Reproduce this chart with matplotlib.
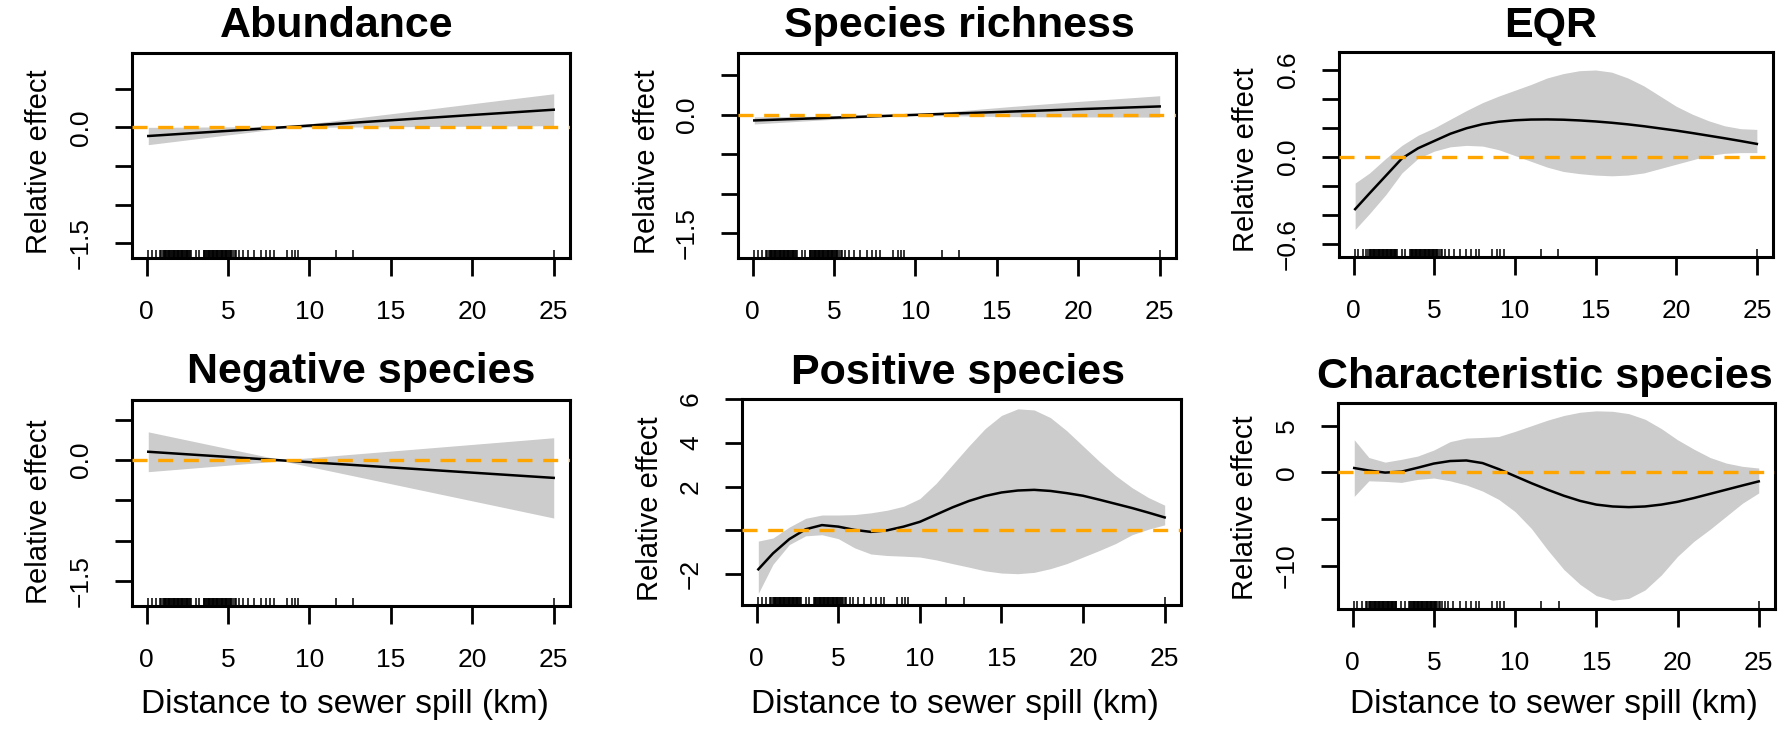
import matplotlib
matplotlib.use("Agg")
import matplotlib.pyplot as plt

plt.rcParams['font.family'] = ['Liberation Sans', 'DejaVu Sans']

# ---------------- data ----------------
rug_km = [0.1, 0.3, 0.6, 0.8, 0.9, 1.0, 1.05, 1.1, 1.15, 1.2, 1.25, 1.3, 1.35, 1.4, 1.45, 1.5,
          1.55, 1.6, 1.65, 1.7, 1.75, 1.8, 1.85, 1.9, 1.95, 2.0, 2.05, 2.1, 2.15, 2.2, 2.25,
          2.3, 2.35, 2.4, 2.45, 2.5, 2.55, 2.6, 2.65, 2.7, 3.0, 3.2, 3.5, 3.55, 3.6, 3.65,
          3.7, 3.75, 3.8, 3.85, 3.9, 3.95, 4.0, 4.05, 4.1, 4.15, 4.2, 4.25, 4.3, 4.35, 4.4,
          4.45, 4.5, 4.55, 4.6, 4.65, 4.7, 4.75, 4.8, 4.85, 4.9, 4.95, 5.0, 5.05, 5.1, 5.15,
          5.2, 5.3, 5.4, 5.5, 5.7, 5.9, 6.2, 6.6, 7.0, 7.3, 7.6, 7.8, 8.6, 8.9, 9.1, 9.3,
          11.6, 12.7, 25.0]

abund_x = [0.1, 2, 4, 6, 8, 8.7, 10, 12, 14, 16, 18, 20, 22, 25]
abund_fit = [-0.113, -0.087, -0.060, -0.033, -0.005, 0.004, 0.022, 0.049, 0.077, 0.104, 0.131, 0.159, 0.186, 0.227]
abund_hi = [-0.001, 0.001, 0.004, 0.007, 0.010, 0.011, 0.045, 0.097, 0.149, 0.200, 0.252, 0.304, 0.356, 0.433]
abund_lo = [-0.225, -0.176, -0.124, -0.073, -0.021, -0.003, -0.001, 0.002, 0.005, 0.008, 0.011, 0.013, 0.016, 0.020]

rich_x = [0.1, 2, 4, 6, 8, 9.5, 12, 14, 16, 18, 20, 22, 25]
rich_fit = [-0.072, -0.058, -0.044, -0.030, -0.016, -0.005, 0.013, 0.027, 0.041, 0.055, 0.070, 0.084, 0.105]
rich_hi = [-0.027, -0.023, -0.019, -0.014, -0.008, 0.000, 0.038, 0.072, 0.106, 0.137, 0.168, 0.197, 0.240]
rich_lo = [-0.117, -0.093, -0.069, -0.046, -0.024, -0.010, -0.012, -0.018, -0.024, -0.027, -0.028, -0.029, -0.030]

eqr_x = [0.1, 1, 2, 3, 4, 5, 6, 7, 8, 9, 10, 11, 12, 13, 14, 15, 16, 17, 18, 19, 20, 21, 22, 23, 24, 25]
eqr_fit = [-0.36, -0.25, -0.13, -0.01, 0.06, 0.11, 0.16, 0.198, 0.226, 0.243, 0.253, 0.258, 0.259,
           0.257, 0.252, 0.245, 0.236, 0.225, 0.212, 0.197, 0.182, 0.165, 0.147, 0.129, 0.11, 0.09]
eqr_hi = [-0.18, -0.11, -0.01, 0.08, 0.15, 0.20, 0.26, 0.32, 0.375, 0.42, 0.46, 0.50, 0.545, 0.575,
          0.595, 0.60, 0.585, 0.545, 0.49, 0.42, 0.35, 0.295, 0.25, 0.215, 0.195, 0.19]
eqr_lo = [-0.50, -0.39, -0.26, -0.11, -0.01, 0.04, 0.07, 0.08, 0.075, 0.05, 0.01, -0.03, -0.07, -0.10,
          -0.115, -0.125, -0.13, -0.125, -0.11, -0.08, -0.05, -0.02, 0.01, 0.025, 0.03, 0.03]

neg_x = [0.1, 2, 4, 6, 8, 8.3, 10, 12, 14, 16, 18, 20, 22, 25]
neg_fit = [0.103, 0.078, 0.052, 0.026, 0.0, -0.004, -0.026, -0.052, -0.078, -0.104, -0.130, -0.156, -0.182, -0.221]
neg_hi = [0.350, 0.269, 0.184, 0.099, 0.014, 0.001, 0.029, 0.062, 0.095, 0.128, 0.161, 0.194, 0.227, 0.277]
neg_lo = [-0.144, -0.113, -0.080, -0.047, -0.014, -0.009, -0.081, -0.166, -0.251, -0.336, -0.421, -0.506, -0.591, -0.719]

pos_x = eqr_x
pos_fit = [-1.78, -1.05, -0.40, 0.05, 0.24, 0.17, 0.02, -0.07, 0.0, 0.17, 0.39, 0.72, 1.05, 1.34,
           1.57, 1.73, 1.82, 1.85, 1.80, 1.70, 1.58, 1.40, 1.21, 1.02, 0.81, 0.59]
pos_hi = [-0.49, -0.35, 0.15, 0.55, 0.70, 0.70, 0.72, 0.80, 0.92, 1.10, 1.45, 2.15, 3.0, 3.85,
          4.65, 5.25, 5.55, 5.50, 5.15, 4.55, 3.85, 3.15, 2.50, 1.95, 1.50, 1.15]
pos_lo = [-2.88, -1.55, -0.65, -0.25, -0.20, -0.38, -0.80, -1.08, -1.15, -1.18, -1.22, -1.35, -1.52,
          -1.68, -1.85, -1.95, -1.98, -1.92, -1.75, -1.52, -1.22, -0.92, -0.60, -0.20, 0.05, 0.25]

char_x = eqr_x
char_fit = [0.47, 0.2, -0.02, 0.08, 0.5, 0.95, 1.22, 1.28, 1.0, 0.35, -0.4, -1.15, -1.85, -2.5,
            -3.05, -3.45, -3.65, -3.72, -3.65, -3.45, -3.15, -2.75, -2.3, -1.85, -1.4, -0.96]
char_hi = [3.5, 1.6, 1.1, 1.4, 1.75, 2.4, 3.3, 3.68, 3.75, 3.85, 4.4, 5.0, 5.6, 6.1, 6.45, 6.6,
           6.55, 6.3, 5.7, 4.7, 3.5, 2.5, 1.6, 1.0, 0.65, 0.47]
char_lo = [-2.57, -0.9, -0.96, -1.07, -0.75, -0.6, -0.9, -1.35, -2.0, -2.9, -4.2, -6.0, -8.3, -10.4,
           -12.0, -13.2, -13.7, -13.5, -12.6, -11.0, -9.0, -7.4, -6.1, -4.7, -3.3, -2.2]

titles = ["Abundance", "Species richness", "EQR",
          "Negative species", "Positive species", "Characteristic species"]
x_ticks = [0, 5, 10, 15, 20, 25]
y_ticks = [[0.5, 0.0, -0.5, -1.0, -1.5], [0.5, 0.0, -0.5, -1.0, -1.5],
           [0.6, 0.4, 0.2, 0.0, -0.2, -0.4, -0.6],
           [0.5, 0.0, -0.5, -1.0, -1.5], [6, 4, 2, 0, -2], [5, 0, -5, -10]]
y_labels = [["", "0.0", "", "", "\u22121.5"], ["", "0.0", "", "", "\u22121.5"],
            ["0.6", "", "", "0.0", "", "", "\u22120.6"],
            ["", "0.0", "", "", "\u22121.5"], ["6", "4", "2", "", "\u22122"],
            ["5", "0", "", "\u221210"]]
y_lims = [(-1.69, 0.96), (-1.81, 0.78), (-0.69, 0.724),
          (-1.81, 0.745), (-3.41, 6.0), (-14.64, 7.44)]
panels = [(abund_x, abund_fit, abund_lo, abund_hi),
          (rich_x, rich_fit, rich_lo, rich_hi),
          (eqr_x, eqr_fit, eqr_lo, eqr_hi),
          (neg_x, neg_fit, neg_lo, neg_hi),
          (pos_x, pos_fit, pos_lo, pos_hi),
          (char_x, char_fit, char_lo, char_hi)]

# ---------------- layout (pixels) ----------------
W, H = 1785, 731
boxes = [(132, 53, 570, 258), (738, 53, 1176, 258), (1339, 52, 1773, 257),
         (132, 400, 570, 606), (742, 399, 1181, 605), (1338, 403, 1775, 609)]
title_pos = [(337, 37), (959, 37), (1551, 37), (361, 383), (958, 384), (1545, 388)]
ylab_pos = [(39, 162), (647, 162), (1246, 160), (39, 512), (650, 509), (1245, 508)]
xlab_pos = [(345, 704), (955, 704), (1554, 704)]

fig = plt.figure(figsize=(W / 100, H / 100), dpi=100)

for i, (xs, fit, lo, hi) in enumerate(panels):
    x0, y0, x1, y1 = boxes[i]
    ax = fig.add_axes([x0 / W, 1 - y1 / H, (x1 - x0) / W, (y1 - y0) / H])
    ax.fill_between(xs, lo, hi, color='#CCCCCC', linewidth=0, zorder=1)
    ax.plot(xs, fit, color='black', lw=1.8, zorder=3)
    ax.axhline(0, color='#FFA500', lw=2.4, ls=(0, (4.5, 3.2)), zorder=4)
    ax.vlines(rug_km, 0, 0.038, transform=ax.get_xaxis_transform(),
              color='black', lw=1.1, zorder=5)
    ax.set_xlim(-0.9, 26.0)
    ax.set_ylim(*y_lims[i])
    ax.set_xticks(x_ticks)
    ax.set_xticklabels([str(t) for t in x_ticks], fontsize=19)
    ax.set_yticks(y_ticks[i])
    ax.set_yticklabels(y_labels[i], fontsize=19, rotation=90, va='center')
    ax.tick_params(axis='x', length=13, width=2.0, pad=17)
    ax.tick_params(axis='y', length=12, width=2.0, pad=16)
    for s in ax.spines.values():
        s.set_linewidth(2.2)
    tx, ty = title_pos[i]
    fig.text(tx / W, 1 - ty / H, titles[i], fontsize=31, fontweight='bold',
             ha='center', va='baseline')
    lx, ly = ylab_pos[i]
    fig.text(lx / W, 1 - ly / H, "Relative effect", fontsize=21, rotation=90,
             ha='center', va='center')

for lx, ly in xlab_pos:
    fig.text(lx / W, 1 - ly / H, "Distance to sewer spill (km)", fontsize=24,
             ha='center', va='center')

fig.savefig("out.png", dpi=100)
